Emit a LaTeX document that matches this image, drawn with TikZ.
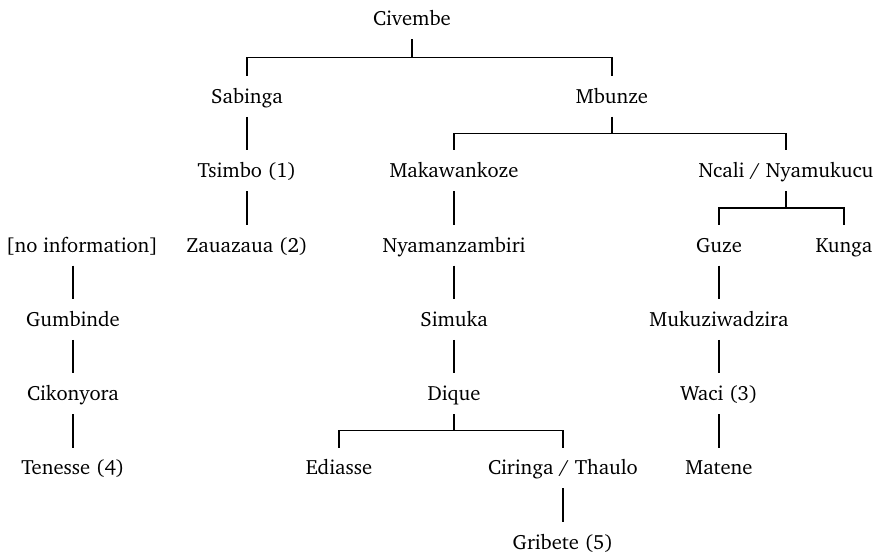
\documentclass[tikz,border=0pt]{standalone}
\usepackage[T1]{fontenc}
\usepackage{charter}
\usetikzlibrary{calc}
\begin{document}
\begin{tikzpicture}[x=0.5pt,y=-0.5pt,
  person/.style={inner sep=0pt,text height=6.9pt,text depth=0pt,
    minimum height=20pt,font=\fontsize{10.3}{12}\selectfont},
  link/.style={line width=0.6pt},
]
\useasboundingbox (0,0) rectangle (880,553);
% generations
\def\ra{19}\def\rb{96.5}\def\rc{170.8}\def\rd{245.1}
\def\re{319.4}\def\rf{393.7}\def\rg{468}\def\rh{542.3}

\node[person] (civembe) at (412,\ra) {Civembe};
\node[person] (sabinga) at (247,\rb) {Sabinga};
\node[person] (mbunze)  at (612,\rb) {Mbunze};
\node[person] (tsimbo)  at (247,\rc) {Tsimbo (1)};
\node[person] (makaw)   at (454,\rc) {Makawankoze};
\node[person] (ncali)   at (786,\rc) {Ncali / Nyamukucu};
\node[person] (noinfo)  at (82,\rd)  {[no information]};
\node[person] (zauaz)   at (247,\rd) {Zauazaua (2)};
\node[person] (nyaman)  at (454,\rd) {Nyamanzambiri};
\node[person] (guze)    at (719,\rd) {Guze};
\node[person] (kunga)   at (844,\rd) {Kunga};
\node[person] (gumb)    at (73,\re)  {Gumbinde};
\node[person] (simuka)  at (454,\re) {Simuka};
\node[person] (mukuz)   at (719,\re) {Mukuziwadzira};
\node[person] (cikon)   at (73,\rf)  {Cikonyora};
\node[person] (dique)   at (454,\rf) {Dique};
\node[person] (waci)    at (719,\rf) {Waci (3)};
\node[person] (tenesse) at (73,\rg)  {Tenesse (4)};
\node[person] (ediasse) at (339,\rg) {Ediasse};
\node[person] (ciringa) at (563,\rg) {Ciringa / Thaulo};
\node[person] (matene)  at (719,\rg) {Matene};
\node[person] (gribete) at (563,\rh) {Gribete (5)};

% branching descent: down, across, down
\foreach \p/\c in {civembe/sabinga,civembe/mbunze,mbunze/makaw,mbunze/ncali,
                   ncali/guze,ncali/kunga,dique/ediasse,dique/ciringa}
  \draw[link] (\p.south) |- ($(\p.south)!.5!(\c.north)$) -| (\c.north);

% single-line descent
\foreach \p/\c in {sabinga/tsimbo,tsimbo/zauaz,makaw/nyaman,nyaman/simuka,
                   simuka/dique,guze/mukuz,mukuz/waci,waci/matene,
                   ciringa/gribete,gumb/cikon,cikon/tenesse}
  \draw[link] (\p.south) -- (\c.north);
\draw[link] (gumb.north |- noinfo.south) -- (gumb.north);
\end{tikzpicture}
\end{document}
